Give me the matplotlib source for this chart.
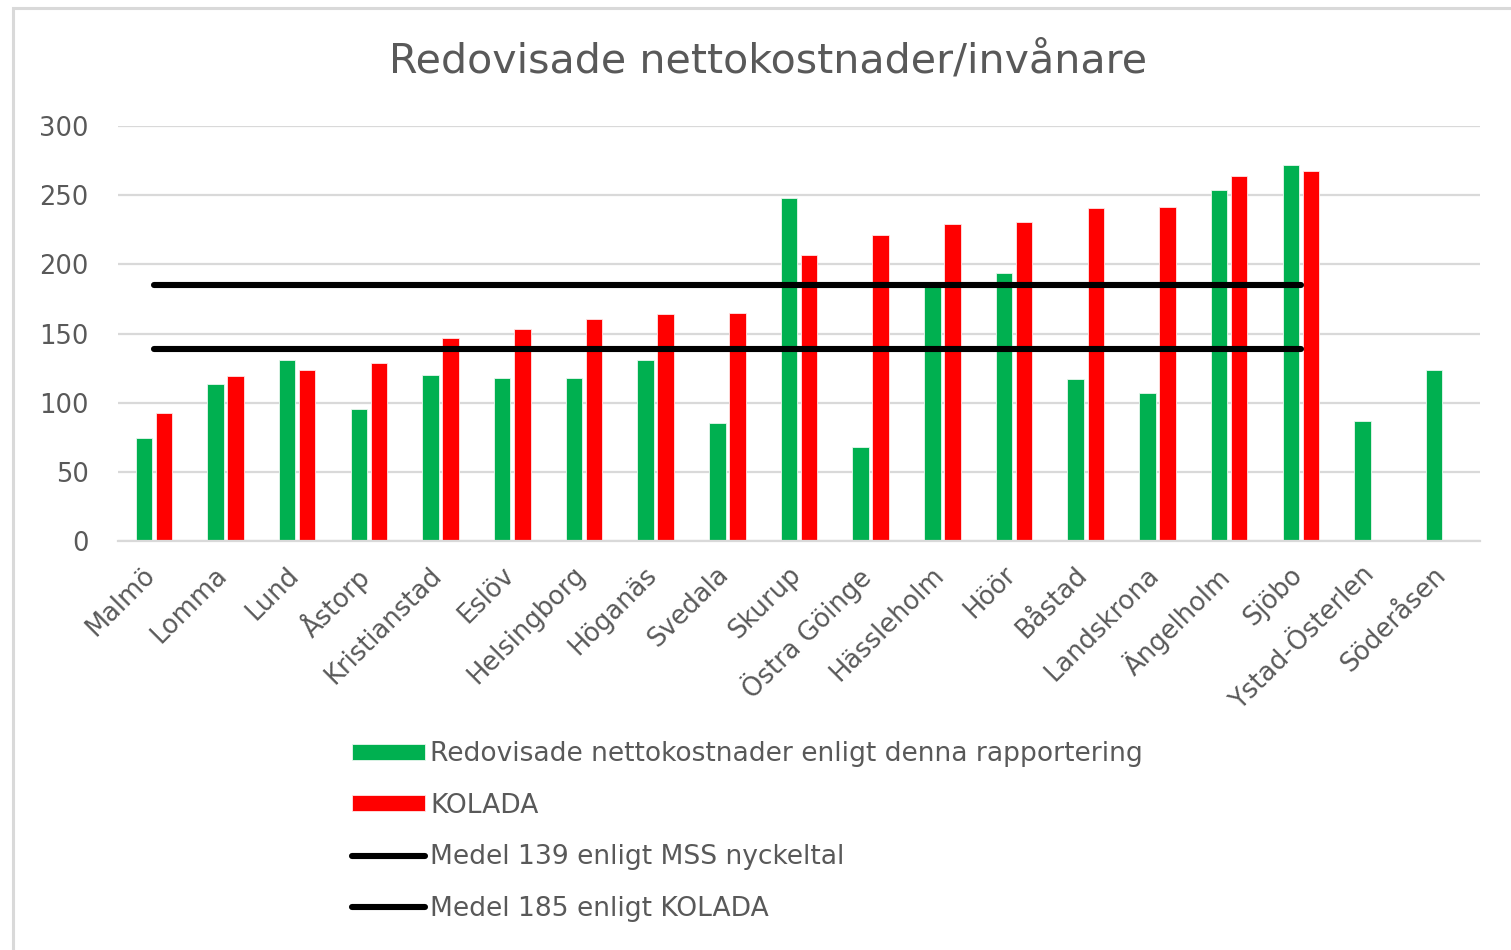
import numpy as np
import matplotlib
matplotlib.use("Agg")
import matplotlib.pyplot as plt
from matplotlib.patches import Rectangle
import matplotlib.transforms as mtransforms

plt.rcParams['font.family'] = ['DejaVu Sans']

categories = ["Malmö", "Lomma", "Lund", "Åstorp", "Kristianstad", "Eslöv", "Helsingborg",
              "Höganäs", "Svedala", "Skurup", "Östra Göinge", "Hässleholm", "Höör", "Båstad",
              "Landskrona", "Ängelholm", "Sjöbo", "Ystad-Österlen", "Söderåsen"]
redovisade = [74.5, 113.5, 131, 95.5, 120, 118, 118, 131, 85, 248, 68, 185, 193.5, 117,
              107, 253.5, 271.5, 86.5, 123.5]
kolada = [92.5, 119, 123.5, 129, 147, 153.5, 160.5, 164, 165, 207, 221.5, 229, 230.5,
          240.5, 241.5, 263.5, 267.5, np.nan, np.nan]
medel_mss = [139, 139, 139, 139, 139, 139, 139, 139, 139, 139, 139, 139, 139, 139, 139, 139, 139,
             np.nan, np.nan]
medel_kolada = [185, 185, 185, 185, 185, 185, 185, 185, 185, 185, 185, 185, 185, 185, 185, 185, 185,
                np.nan, np.nan]
yticks = [0, 50, 100, 150, 200, 250, 300]
title = "Redovisade nettokostnader/invånare"
labels = ["Redovisade nettokostnader enligt denna rapportering", "KOLADA",
          "Medel 139 enligt MSS nyckeltal", "Medel 185 enligt KOLADA"]

W, H = 1511, 950
fig = plt.figure(figsize=(W / 100, H / 100), dpi=100)
fig.patch.set_facecolor("white")
renderer = fig.canvas.get_renderer()

# outer chart frame
fig.patches.append(Rectangle((13 / W, -0.1), 1.2, (1 - 8 / H) + 0.1, transform=fig.transFigure,
                             fill=False, edgecolor="#D9D9D9", linewidth=2.2, zorder=0))

ax = fig.add_axes([118 / W, 1 - 541 / H, (1480 - 118) / W, (541 - 126) / H])
x = np.arange(len(categories))
bw = 0.23
off = 0.14
TXT = "#595959"
b1 = ax.bar(x - off, redovisade, bw, color="#00B050", edgecolor="#E8F7EE", linewidth=0.6, zorder=2)
b2 = ax.bar(x + off, kolada, bw, color="#FF0000", edgecolor="#FFE5E5", linewidth=0.6, zorder=2)
l1, = ax.plot(x, medel_mss, color="black", lw=4.4, solid_capstyle="round", zorder=3)
l2, = ax.plot(x, medel_kolada, color="black", lw=4.4, solid_capstyle="round", zorder=3)

ax.set_xlim(-0.5, len(categories) - 0.5)
ax.set_ylim(0, 300)
ax.set_yticks(yticks)
ax.set_yticklabels([str(v) for v in yticks])
ax.yaxis.grid(True, color="#D9D9D9", linewidth=1.6, zorder=0)
ax.set_axisbelow(True)
for s in ["top", "right", "left"]:
    ax.spines[s].set_visible(False)
ax.spines["bottom"].set_color("#D9D9D9")
ax.spines["bottom"].set_linewidth(1.6)
ax.tick_params(axis="both", length=0, colors=TXT, labelsize=18.5)
ax.tick_params(axis="y", pad=21)
ax.set_xticks(x)
ax.set_xticklabels(categories, rotation=45, ha="right", va="top", rotation_mode="default")
ax.tick_params(axis="x", pad=15)
shift = mtransforms.ScaledTranslation(7 / 100, 0, fig.dpi_scale_trans)
for lab in ax.get_xticklabels():
    lab.set_transform(lab.get_transform() + shift)

# title, sized to the reference width
tt = fig.text(768 / W, 1 - 62 / H, title, ha="center", va="center", fontsize=27, color=TXT)
wpx = tt.get_window_extent(renderer).width
tt.set_fontsize(27 * 758 / wpx)

# legend font sized to the reference width of the first label
probe = fig.text(0, 0, labels[0], fontsize=18)
w0 = probe.get_window_extent(renderer).width
probe.remove()
fs = 18 * 715 / w0
fpx = fs * 100 / 72
row_px = 52
lbl_sp = (row_px - fpx) / fpx
leg = fig.legend([b1, b2, l2, l1], labels, loc="center left",
                 bbox_to_anchor=(352 / W, 1 - (753 + 910) / 2 / H), frameon=False, fontsize=fs,
                 handlelength=73 / fpx, handleheight=0.55,
                 handletextpad=0.2, labelspacing=lbl_sp,
                 borderaxespad=0, borderpad=0)
for t in leg.get_texts():
    t.set_color(TXT)

fig.savefig("out.png", dpi=100)
